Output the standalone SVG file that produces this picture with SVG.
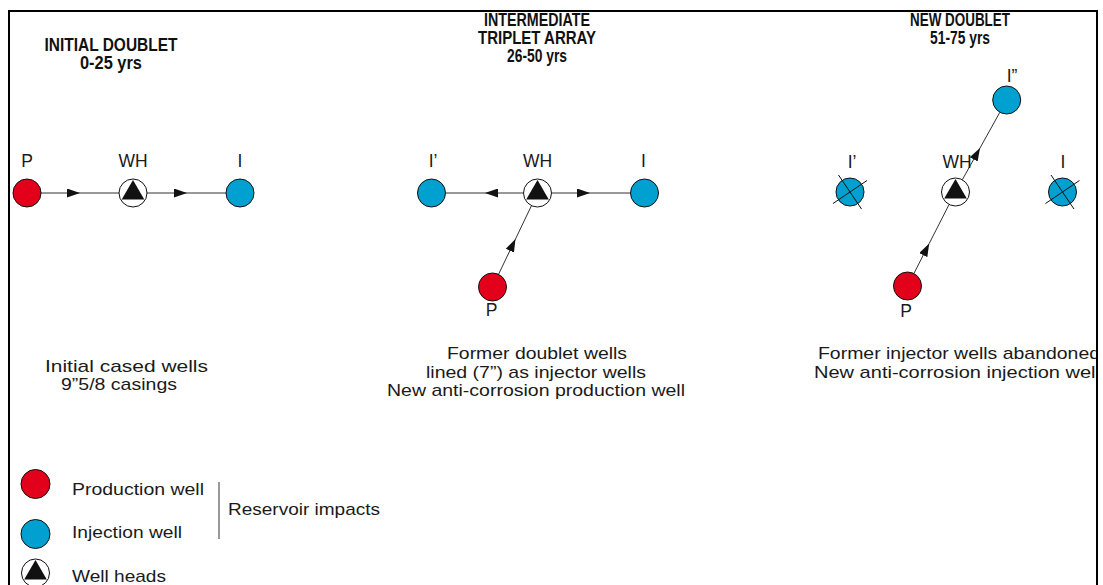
<svg xmlns="http://www.w3.org/2000/svg" xmlns:xlink="http://www.w3.org/1999/xlink" width="1103" height="585" viewBox="0 0 1103 585">
<style>
.t{font-family:"Liberation Sans",Arial,sans-serif;font-size:17px;fill:#1a1a1a}
.lb{font-family:"Liberation Sans",Arial,sans-serif;font-size:17.5px;fill:#1a1a1a;text-anchor:middle}
.h{font-family:"Liberation Sans",Arial,sans-serif;font-size:17.5px;font-weight:bold;fill:#111;text-anchor:middle}
.prod{fill:#e2001a;stroke:#111;stroke-width:1}
.inj{fill:#00a0d0;stroke:#111;stroke-width:1}
.wh{fill:#fff;stroke:#111;stroke-width:1}
.tri{fill:#111}
.cross{stroke:#111;stroke-width:1;fill:none}
.con{stroke:#333;stroke-width:1;fill:none;marker-mid:url(#ah)}
</style>
<defs>
<marker id="ah" viewBox="-13 -4.5 13 9" refX="0" refY="0" markerWidth="13" markerHeight="9" markerUnits="userSpaceOnUse" orient="auto"><path d="M0,0 L-13,-4.5 L-13,4.5 z" fill="#111"/></marker>
<g id="whsym"><circle r="14" class="wh"/><path d="M0,-13 L11.3,6.5 L-11.3,6.5 z" class="tri"/></g>
<g id="xsym"><path d="M-17,11.5 L17,-11.5 M-11.5,-17 L11.5,17" class="cross"/></g>
<clipPath id="frame"><rect x="9" y="11" width="1087" height="574"/></clipPath>
</defs>
<rect width="1103" height="585" fill="#fff"/>
<path d="M9,585 V11 H1097 V585" fill="none" stroke="#000" stroke-width="2"/>

<g id="titles">
<text class="h" x="111" y="51" textLength="133" lengthAdjust="spacingAndGlyphs">INITIAL DOUBLET</text>
<text class="h" x="111" y="69" textLength="62" lengthAdjust="spacingAndGlyphs">0-25 yrs</text>
<text class="h" x="537" y="26" textLength="106" lengthAdjust="spacingAndGlyphs">INTERMEDIATE</text>
<text class="h" x="537" y="44" textLength="118" lengthAdjust="spacingAndGlyphs">TRIPLET ARRAY</text>
<text class="h" x="537" y="62" textLength="60" lengthAdjust="spacingAndGlyphs">26-50 yrs</text>
<text class="h" x="960" y="26" textLength="100" lengthAdjust="spacingAndGlyphs">NEW DOUBLET</text>
<text class="h" x="960" y="44" textLength="60" lengthAdjust="spacingAndGlyphs">51-75 yrs</text>
</g>

<g id="connectors">
<path class="con" d="M41,193 L80,193 L119,193"/>
<path class="con" d="M147,193 L187,193 L226,193"/>
<path class="con" d="M523.5,193 L485,193 L445.5,193"/>
<path class="con" d="M551.5,193 L590,193 L630.5,193"/>
<path class="con" d="M498.5,274.4 L515.5,239 L531.5,205.6"/>
<path class="con" d="M913.9,273.5 L929.2,243.5 L949.1,204.5"/>
<path class="con" d="M962.3,179.8 L980,148 L999.9,112.2"/>
</g>

<g id="p1-P"><circle cx="27" cy="193" r="14" class="prod"/><text class="lb" x="27" y="167">P</text></g>
<g id="p1-WH"><use xlink:href="#whsym" x="133" y="193"/><text class="lb" x="133" y="167">WH</text></g>
<g id="p1-I"><circle cx="240" cy="193" r="14" class="inj"/><text class="lb" x="240" y="167">I</text></g>

<g id="p2-I1"><circle cx="431.5" cy="193" r="14" class="inj"/><text class="lb" x="433" y="167">I’</text></g>
<g id="p2-WH"><use xlink:href="#whsym" x="537.5" y="193"/><text class="lb" x="537.5" y="167">WH</text></g>
<g id="p2-I"><circle cx="644.5" cy="193" r="14" class="inj"/><text class="lb" x="643.5" y="167">I</text></g>
<g id="p2-P"><circle cx="492.5" cy="287" r="14" class="prod"/><text class="lb" x="491.5" y="316">P</text></g>

<g id="p3-I1"><circle cx="850" cy="192" r="14" class="inj"/><use xlink:href="#xsym" x="850" y="192"/><text class="lb" x="852" y="168">I’</text></g>
<g id="p3-WH"><use xlink:href="#whsym" x="955.5" y="192"/><text class="lb" x="957" y="168">WH</text></g>
<g id="p3-I"><circle cx="1062.5" cy="192" r="14" class="inj"/><use xlink:href="#xsym" x="1062.5" y="192"/><text class="lb" x="1063" y="168">I</text></g>
<g id="p3-I2"><circle cx="1006.7" cy="100" r="14" class="inj"/><text class="lb" x="1012" y="82">I”</text></g>
<g id="p3-P"><circle cx="907.5" cy="286" r="14" class="prod"/><text class="lb" x="906" y="316.5">P</text></g>

<g id="notes">
<text class="t" x="45" y="372" textLength="163" lengthAdjust="spacingAndGlyphs">Initial cased wells</text>
<text class="t" x="61" y="390" textLength="116" lengthAdjust="spacingAndGlyphs">9”5/8 casings</text>
<text class="t" x="447" y="359" textLength="180" lengthAdjust="spacingAndGlyphs">Former doublet wells</text>
<text class="t" x="426" y="378" textLength="220" lengthAdjust="spacingAndGlyphs">lined (7”) as injector wells</text>
<text class="t" x="387" y="396" textLength="298" lengthAdjust="spacingAndGlyphs">New anti-corrosion production well</text>
<g clip-path="url(#frame)">
<text class="t" x="818" y="359" textLength="282" lengthAdjust="spacingAndGlyphs">Former injector wells abandoned</text>
<text class="t" x="814" y="378" textLength="286" lengthAdjust="spacingAndGlyphs">New anti-corrosion injection well</text>
</g>
</g>

<g id="legend">
<circle cx="35.5" cy="484" r="14.5" class="prod"/>
<text class="t" x="72" y="495" textLength="132" lengthAdjust="spacingAndGlyphs">Production well</text>
<circle cx="35.5" cy="534" r="14.5" class="inj"/>
<text class="t" x="72" y="538" textLength="110" lengthAdjust="spacingAndGlyphs">Injection well</text>
<use xlink:href="#whsym" x="35.5" y="573"/>
<text class="t" x="72" y="582" textLength="94" lengthAdjust="spacingAndGlyphs">Well heads</text>
<path d="M219,482 V539" stroke="#333" stroke-width="1"/>
<text class="t" x="228" y="515" textLength="152" lengthAdjust="spacingAndGlyphs">Reservoir impacts</text>
</g>
</svg>
